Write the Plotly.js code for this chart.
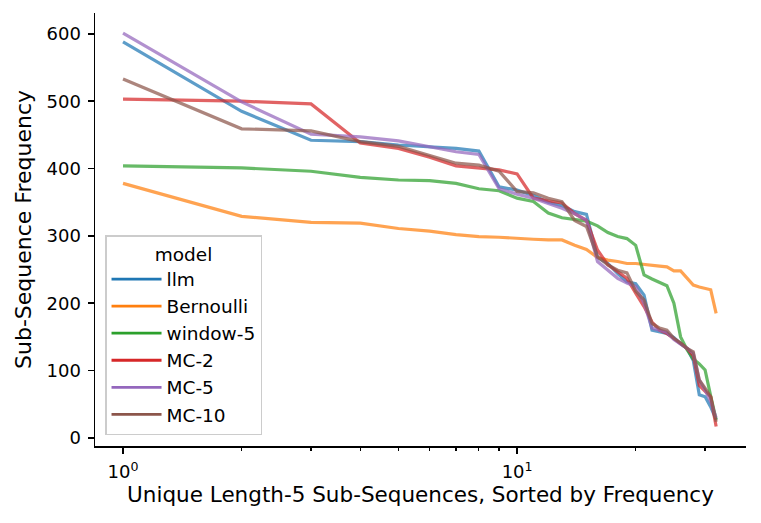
<!DOCTYPE html>
<html>
<head>
<meta charset="utf-8">
<script src="https://cdn.plot.ly/plotly-3.0.1.min.js"></script>
<style>html,body{margin:0;padding:0;background:#fff;}#chart{width:761px;height:523px;}</style>
</head>
<body>
<div id="chart"></div>
<script>
const ranks = [1,2,3,4,5,6,7,8,9,10,11,12,13,14,15,16,17,18,19,20,21,22,23,24,25,26,27,28,29,30,31,32];
const models = ["llm","Bernoulli","window-5","MC-2","MC-5","MC-10"];
const llm = [588,485,442,440,435,432,430,426,373,368,360,350,345,336,332,268,259,244,232,229,212,160,158,155,149,140,133,115,64,61,46,27];
const bernoulli = [378,329,320,319,311,307,302,299,298,297,295,294,294,286,280,268,264,262,259,259,258,257,255,254,248,248,237,227,224,222,220,185];
const window5 = [404,401,396,387,383,382,378,370,367,356,351,334,327,324,322,315,305,299,296,286,242,236,231,226,200,150,131,117,110,101,62,27];
const mc2 = [503,500,496,438,430,417,404,401,398,392,356,352,349,333,323,279,257,247,237,215,195,172,160,155,148,140,133,122,78,69,61,17];
const mc5 = [601,499,451,447,441,432,425,421,370,362,356,348,341,333,323,262,249,237,230,225,200,163,160,157,146,140,133,126,86,71,54,30];
const mc10 = [533,459,456,440,433,420,408,405,396,366,364,356,351,323,314,269,257,249,245,218,205,170,163,160,148,141,133,128,86,74,61,24];
const xTickVals = [1,10];
const xTickText = ["10<sup>0</sup>","10<sup>1</sup>"];
const xMinorVals = [2,3,4,5,6,7,8,9,20,30];
const yTickVals = [0,100,200,300,400,500,600];

const series = [llm,bernoulli,window5,mc2,mc5,mc10];
const colors = ["#1f77b4","#ff7f0e","#2ca02c","#d62728","#9467bd","#8c564b"];
const FONT = "DejaVu Sans, sans-serif";

const traces = [];
series.forEach((ys,i)=>{
  traces.push({
    x: ranks, y: ys, type: "scatter", mode: "lines",
    name: models[i], showlegend: false, opacity: 0.72,
    line: {color: colors[i], width: 3.2}, hoverinfo: "skip"
  });
});
models.forEach((m,i)=>{
  traces.push({
    x: [null], y: [null], type: "scatter", mode: "lines",
    name: m, legendgroup: m, showlegend: true,
    line: {color: colors[i], width: 2.8}
  });
});

const layout = {
  width: 761, height: 523,
  margin: {l: 95, r: 15, t: 13, b: 77, pad: 0},
  paper_bgcolor: "#fff", plot_bgcolor: "#fff",
  font: {family: FONT, size: 18, color: "#000"},
  showlegend: true,
  xaxis: {
    type: "log", range: [Math.log10(0.849), Math.log10(38.1)],
    showline: true, linecolor: "#000", linewidth: 1.5, mirror: false,
    showgrid: false, zeroline: false,
    tickmode: "array", tickvals: xTickVals, ticktext: xTickText,
    ticks: "outside", ticklen: 6, tickwidth: 1.5, tickcolor: "#000",
    ticklabelstandoff: 3,
    minor: {tickmode: "array", tickvals: xMinorVals, ticks: "outside", ticklen: 3.5, tickwidth: 1.2, tickcolor: "#000", showgrid: false},
    tickfont: {family: FONT, size: 18},
    title: {text: "Unique Length-5 Sub-Sequences, Sorted by Frequency", font: {family: FONT, size: 21.5}, standoff: 5}
  },
  yaxis: {
    range: [-12, 631],
    showline: true, linecolor: "#000", linewidth: 1.5, mirror: false,
    showgrid: false, zeroline: false,
    tickmode: "array", tickvals: yTickVals,
    ticks: "outside", ticklen: 6, tickwidth: 1.5, tickcolor: "#000",
    ticklabelstandoff: 3,
    tickfont: {family: FONT, size: 18},
    title: {text: "Sub-Sequence Frequency", font: {family: FONT, size: 22}, standoff: 9}
  },
  legend: {
    x: 0.0154, y: 0.0254, xanchor: "left", yanchor: "bottom",
    bgcolor: "rgba(255,255,255,0.8)", bordercolor: "#cccccc", borderwidth: 1.5,
    font: {family: FONT, size: 18.5},
    title: {text: "model", side: "top center", font: {family: FONT, size: 18.5}},
    tracegroupgap: 6, traceorder: "normal", itemwidth: 50
  }
};

Plotly.newPlot("chart", traces, layout, {staticPlot: true, displayModeBar: false});
</script>
</body>
</html>
